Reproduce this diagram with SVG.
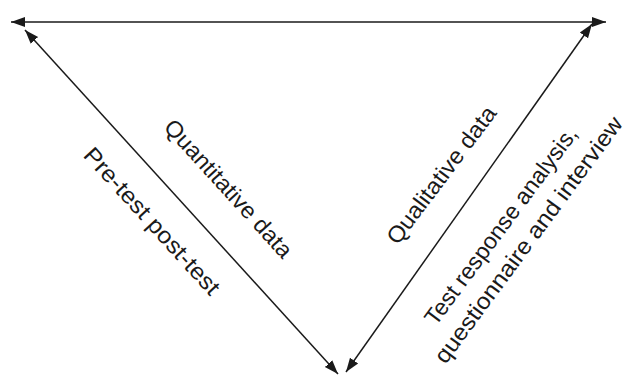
<svg xmlns="http://www.w3.org/2000/svg" width="623" height="376" viewBox="0 0 623 376">
<style>
.conn{stroke:#1a1a1a;stroke-width:1.5;fill:none;marker-start:url(#ah);marker-end:url(#ah)}
.lbl{font-family:"Liberation Sans",Arial,sans-serif;font-size:23px;fill:#1a1a1a;text-anchor:middle}
</style>
<defs>
<marker id="ah" markerUnits="userSpaceOnUse" markerWidth="16" markerHeight="12" refX="14" refY="6" orient="auto-start-reverse" viewBox="0 0 16 12">
<path d="M0,1 L14,6 L0,11 z" fill="#1a1a1a"/>
</marker>
</defs>
<rect width="623" height="376" fill="#ffffff"/>
<g id="connectors">
<line class="conn" x1="11" y1="22" x2="606" y2="22"/>
<line class="conn" x1="25" y1="30" x2="338" y2="374"/>
<line class="conn" x1="592" y1="24" x2="346" y2="372"/>
</g>
<g id="label-quantitative">
<text class="lbl" transform="translate(227.5,189.5) rotate(47.7)" x="0" y="6.5" textLength="178" lengthAdjust="spacingAndGlyphs">Quantitative data</text>
</g>
<g id="label-pretest">
<text class="lbl" transform="translate(151,222) rotate(47.7)" x="0" y="6.5" textLength="190" lengthAdjust="spacingAndGlyphs">Pre-test post-test</text>
</g>
<g id="label-qualitative">
<text class="lbl" transform="translate(442.4,175.8) rotate(-53)" x="0" y="6.5" textLength="166" lengthAdjust="spacingAndGlyphs">Qualitative data</text>
</g>
<g id="label-methods">
<text class="lbl" transform="translate(502,226.5) rotate(-53.5)" x="0" y="6.5" textLength="240" lengthAdjust="spacingAndGlyphs">Test response analysis,</text>
<text class="lbl" transform="translate(529.5,240.5) rotate(-53.5)" x="0" y="6.5" textLength="300" lengthAdjust="spacingAndGlyphs">questionnaire and interview</text>
</g>
</svg>
